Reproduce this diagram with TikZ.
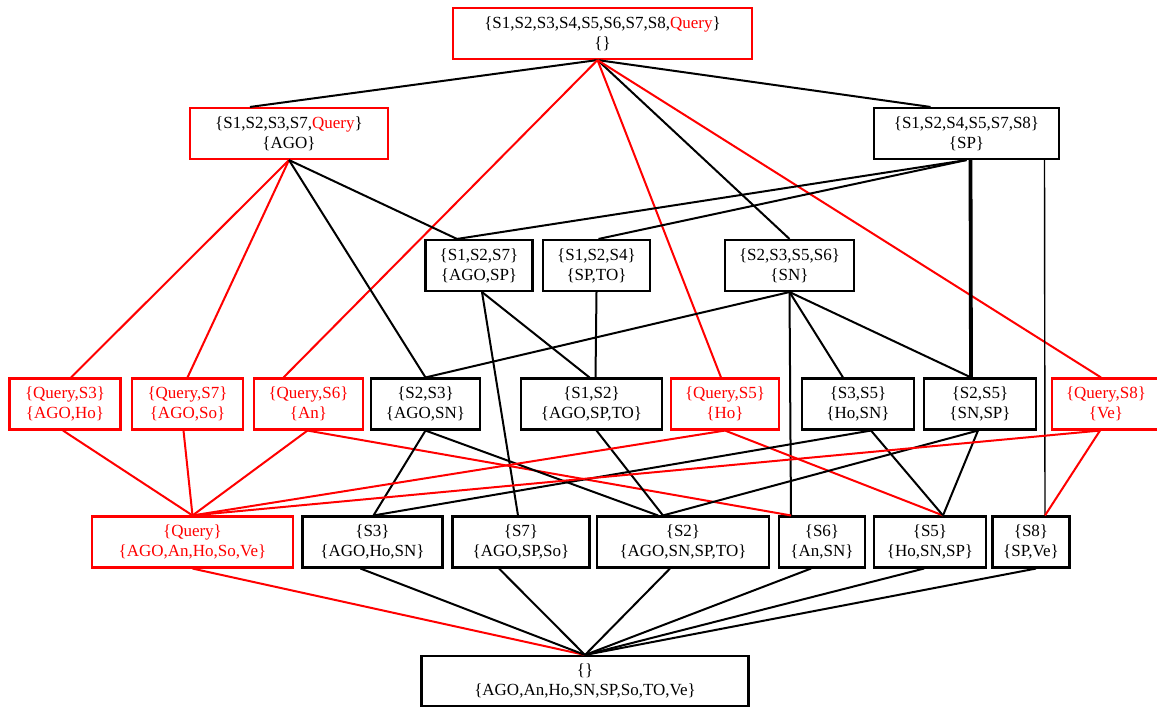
\documentclass[tikz,border=0pt]{standalone}
\usepackage{fontspec}
\setmainfont{Liberation Serif}
\begin{document}
\begin{tikzpicture}[x=1pt,y=-1pt,
  box/.style={draw,line width=2.1pt,minimum height=51pt,inner sep=0pt,align=center,font=\fontsize{17}{20}\selectfont},
  qbox/.style={box,draw=red},
  qtext/.style={qbox,text=red},
  edge/.style={line width=2pt},
  qedge/.style={edge,red}]
\useasboundingbox (0,0) rectangle (1157,707);
% Top and first level
\node[qbox,minimum width=299pt] (top) at (602.5,33.5) {\{S1,S2,S3,S4,S5,S6,S7,S8,\textcolor{red}{Query}\}\\\{\}};
\node[qbox,minimum width=198pt] (ago) at (289,133.5) {\{S1,S2,S3,S7,\textcolor{red}{Query}\}\\\{AGO\}};
\node[box,minimum width=185pt] (sp) at (966.5,133.5) {\{S1,S2,S4,S5,S7,S8\}\\\{SP\}};
% Second level
\node[box,minimum width=107pt] (s127) at (479,265.5) {\{S1,S2,S7\}\\\{AGO,SP\}};
\node[box,minimum width=107pt] (s124) at (596.5,265.5) {\{S1,S2,S4\}\\\{SP,TO\}};
\node[box,minimum width=129pt] (s2356) at (789.5,265.5) {\{S2,S3,S5,S6\}\\\{SN\}};
% Third level
\node[qtext,minimum width=111pt] (qs3) at (65,404) {\{Query,S3\}\\\{AGO,Ho\}};
\node[qtext,minimum width=111pt] (qs7) at (187.5,404) {\{Query,S7\}\\\{AGO,So\}};
\node[qtext,minimum width=109pt] (qs6) at (308.5,404) {\{Query,S6\}\\\{An\}};
\node[box,minimum width=109pt] (s23) at (425.5,404) {\{S2,S3\}\\\{AGO,SN\}};
\node[box,minimum width=141pt] (s12) at (591.5,404) {\{S1,S2\}\\\{AGO,SP,TO\}};
\node[qtext,minimum width=108pt] (qs5) at (725,404) {\{Query,S5\}\\\{Ho\}};
\node[box,minimum width=112pt] (s35) at (858,404) {\{S3,S5\}\\\{Ho,SN\}};
\node[box,minimum width=112pt] (s25) at (980,404) {\{S2,S5\}\\\{SN,SP\}};
\node[qtext,minimum width=108pt] (qs8) at (1106,404) {\{Query,S8\}\\\{Ve\}};
% Fourth level
\node[qtext,minimum width=201pt] (q) at (192.5,542) {\{Query\}\\\{AGO,An,Ho,So,Ve\}};
\node[box,minimum width=140pt] (s3) at (372.5,542) {\{S3\}\\\{AGO,Ho,SN\}};
\node[box,minimum width=137pt] (s7) at (521,542) {\{S7\}\\\{AGO,SP,So\}};
\node[box,minimum width=172pt] (s2) at (683,542) {\{S2\}\\\{AGO,SN,SP,TO\}};
\node[box,minimum width=86pt] (s6) at (822,542) {\{S6\}\\\{An,SN\}};
\node[box,minimum width=112pt] (s5) at (930,542) {\{S5\}\\\{Ho,SN,SP\}};
\node[box,minimum width=77pt] (s8) at (1031,542) {\{S8\}\\\{SP,Ve\}};
% Bottom
\node[box,minimum width=327pt,minimum height=50pt] (bot) at (585,681) {\{\}\\\{AGO,An,Ho,SN,SP,So,TO,Ve\}};
% Edges from the top
\draw[edge] ([xshift=-5pt]top.south) -- ([xshift=-39pt]ago.north);
\draw[edge] ([xshift=-5pt]top.south) -- ([xshift=-36pt]sp.north);
\draw[edge] ([xshift=-5pt]top.south) -- (s2356.north);
\draw[qedge] ([xshift=-5pt]top.south) -- ([xshift=-25pt]qs6.north);
\draw[qedge] ([xshift=-5pt]top.south) -- ([xshift=-4pt]qs5.north);
\draw[qedge] ([xshift=-5pt]top.south) -- ([xshift=-5pt]qs8.north);
% Edges from AGO and SP
\draw[qedge] (ago.south) -- ([xshift=6pt]qs3.north);
\draw[qedge] (ago.south) -- (qs7.north);
\draw[edge] (ago.south) -- (s23.north);
\draw[edge] (ago.south) -- ([xshift=-22pt]s127.north);
\draw[edge] (sp.south) -- ([xshift=-22pt]s127.north);
\draw[edge] (sp.south) -- ([xshift=2pt]s124.north);
\draw[edge,line width=3.8pt] ([xshift=4pt]sp.south) -- ([xshift=-9pt]s25.north);
\draw[line width=1.4pt] ([xshift=78pt]sp.south) -- ([xshift=14pt]s8.north);
% Second level down
\draw[edge] ([xshift=3pt]s127.south) -- ([xshift=-3pt]s7.north);
\draw[edge] ([xshift=3pt]s127.south) -- ([xshift=-2pt]s12.north);
\draw[edge] (s124.south) -- ([xshift=4pt]s12.north);
\draw[edge] (s2356.south) -- (s23.north);
\draw[edge] (s2356.south) -- ([xshift=-31pt]s6.north);
\draw[edge] (s2356.south) -- ([xshift=-15pt]s35.north);
\draw[edge] (s2356.south) -- ([xshift=-9pt]s25.north);
% Third level down
\draw[qedge] ([xshift=-2pt]qs3.south) -- (q.north);
\draw[qedge] ([xshift=-4pt]qs7.south) -- (q.north);
\draw[qedge] ([xshift=-1pt]qs6.south) -- (q.north);
\draw[qedge] ([xshift=-1pt]qs6.south) -- ([xshift=-31pt]s6.north);
\draw[edge] (s23.south) -- ([xshift=1pt]s3.north);
\draw[edge] (s23.south) -- ([xshift=-25pt]s2.north);
\draw[edge] ([xshift=5pt]s12.south) -- ([xshift=-20pt]s2.north);
\draw[qedge] (qs5.south) -- (q.north);
\draw[qedge] (qs5.south) -- ([xshift=13pt]s5.north);
\draw[edge] ([xshift=13pt]s35.south) -- ([xshift=1pt]s3.north);
\draw[edge] ([xshift=13pt]s35.south) -- ([xshift=13pt]s5.north);
\draw[edge] ([xshift=-2pt]s25.south) -- ([xshift=-20pt]s2.north);
\draw[edge] ([xshift=-2pt]s25.south) -- ([xshift=13pt]s5.north);
\draw[qedge] ([xshift=-6pt]qs8.south) -- (q.north);
\draw[qedge] ([xshift=-6pt]qs8.south) -- ([xshift=14pt]s8.north);
% Down to the bottom
\draw[qedge] (q.south) -- (bot.north);
\draw[edge] ([xshift=-12pt]s3.south) -- (bot.north);
\draw[edge] ([xshift=-22pt]s7.south) -- (bot.north);
\draw[edge] ([xshift=-13pt]s2.south) -- (bot.north);
\draw[edge] ([xshift=-11pt]s6.south) -- (bot.north);
\draw[edge] ([xshift=-6pt]s5.south) -- (bot.north);
\draw[edge] ([xshift=5pt]s8.south) -- (bot.north);
\end{tikzpicture}
\end{document}
